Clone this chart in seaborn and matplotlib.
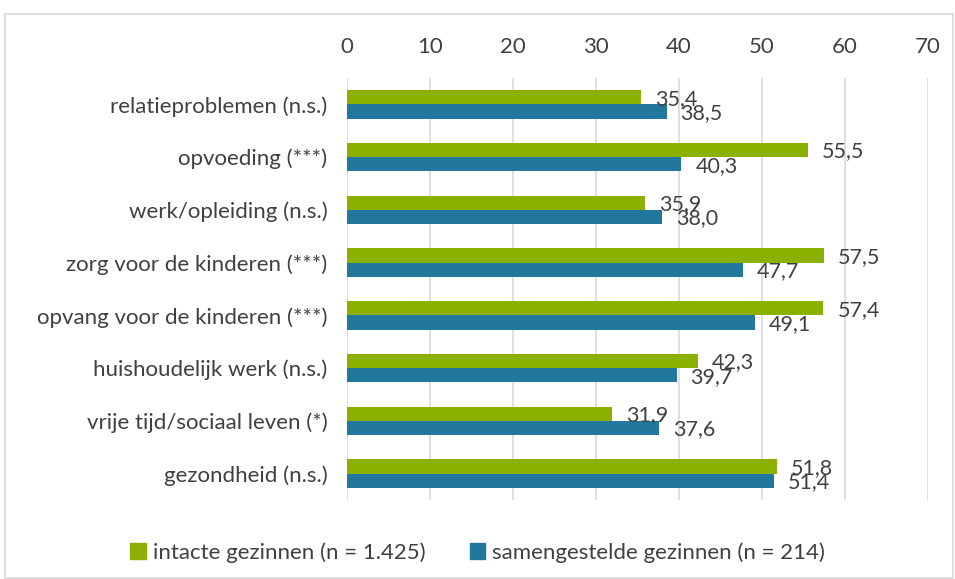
import matplotlib
matplotlib.use("Agg")
import matplotlib.pyplot as plt
import seaborn as sns
import pandas as pd
from matplotlib.patches import Rectangle

categories = ["relatieproblemen (n.s.)", "opvoeding (***)", "werk/opleiding (n.s.)",
              "zorg voor de kinderen (***)", "opvang voor de kinderen (***)",
              "huishoudelijk werk (n.s.)", "vrije tijd/sociaal leven (*)", "gezondheid (n.s.)"]
intact = [35.4, 55.5, 35.9, 57.5, 57.4, 42.3, 31.9, 51.8]
samengesteld = [38.5, 40.3, 38.0, 47.7, 49.1, 39.7, 37.6, 51.4]
series = ["intacte gezinnen (n = 1.425)", "samengestelde gezinnen (n = 214)"]
xticks = [0, 10, 20, 30, 40, 50, 60, 70]

df = pd.DataFrame({
    "cat": categories * 2,
    "val": intact + samengesteld,
    "serie": [series[0]] * len(categories) + [series[1]] * len(categories),
})

sns.set_style("white")
plt.rcParams["font.family"] = ["Lato", "DejaVu Sans"]
text_col = "#404040"
fs = 16

fig = plt.figure(figsize=(9.55, 5.79), dpi=100)
ax = fig.add_axes([0.3634, 0.1364, 0.9717 - 0.3634, 0.8653 - 0.1364])

palette = {series[0]: "#8CB000", series[1]: "#22789C"}
sns.barplot(data=df, y="cat", x="val", hue="serie", orient="h", ax=ax,
            palette=palette, width=0.54, gap=0, saturation=1, legend=False,
            edgecolor="none")

for cont in ax.containers:
    for bar in cont:
        w = bar.get_width()
        yc = bar.get_y() + bar.get_height() / 2
        ax.annotate(f"{w:.1f}".replace(".", ","), xy=(w, yc), xytext=(10, -1),
                    textcoords="offset points", va="center", ha="left",
                    fontsize=15.5, color=text_col)

ax.set_xlim(0, 70)
ax.set_ylim(len(categories) - 0.5, -0.5)
ax.set_xticks(xticks)
ax.set_xticklabels([str(t) for t in xticks])
ax.xaxis.tick_top()
ax.tick_params(axis="x", length=0, labelsize=fs, labelcolor=text_col, pad=15)
ax.tick_params(axis="y", length=0, labelsize=fs, labelcolor=text_col, pad=14)
ax.grid(axis="x", color="#D9D9D9", linewidth=1.2)
ax.set_axisbelow(True)
for s in ax.spines.values():
    s.set_visible(False)
ax.set_xlabel("")
ax.set_ylabel("")

handles = [Rectangle((0, 0), 1, 1, color=palette[s]) for s in series]
fig.legend(handles, series, loc="center", bbox_to_anchor=(0.5, 0.046), ncol=2,
           frameon=False, fontsize=fs, labelcolor=text_col, handlelength=0.7,
           handleheight=0.7, handletextpad=0.3, columnspacing=2.0)

fig.patches.append(Rectangle((5 / 955, 0.002), 948 / 955, 1 - 14 / 579 - 0.002,
                             transform=fig.transFigure, fill=False,
                             edgecolor="#D9D9D9", linewidth=1.2))

fig.savefig("out.png", dpi=100)
